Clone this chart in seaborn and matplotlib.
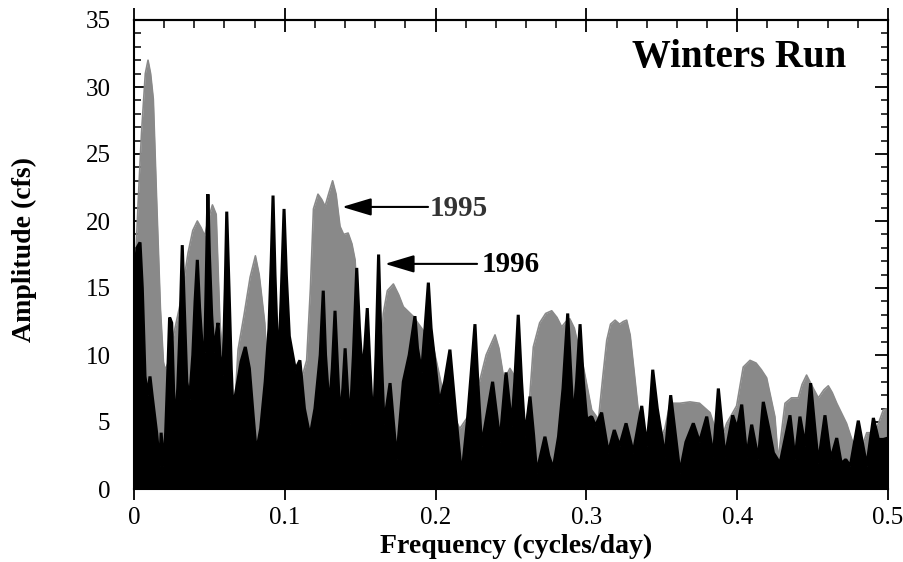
import numpy as np
import pandas as pd
import matplotlib
matplotlib.use("Agg")
import matplotlib.pyplot as plt
import seaborn as sns
from matplotlib.ticker import MultipleLocator

# ---------------- data ----------------
gray_freq = [0.000, 0.003, 0.005, 0.0075, 0.0093, 0.011, 0.0128, 0.015, 0.0175, 0.0195,
             0.0206, 0.023, 0.027, 0.031, 0.0358, 0.039, 0.042, 0.0445, 0.0469, 0.049,
             0.052, 0.0545, 0.057, 0.060, 0.0635, 0.0667, 0.069, 0.073, 0.077, 0.0805,
             0.083, 0.0867, 0.089, 0.095, 0.102, 0.108, 0.1145, 0.117, 0.119, 0.122,
             0.1245, 0.1267, 0.129, 0.1317, 0.134, 0.1366, 0.139, 0.142, 0.1445, 0.1466,
             0.148, 0.150, 0.1545, 0.158, 0.162, 0.1653, 0.168, 0.172, 0.1755, 0.1786,
             0.185, 0.192, 0.1985, 0.204, 0.210, 0.216, 0.222, 0.228, 0.2335, 0.2394,
             0.242, 0.245, 0.2475, 0.2493, 0.252, 0.256, 0.259, 0.2625, 0.2648, 0.269,
             0.273, 0.277, 0.2805, 0.2836, 0.2865, 0.289, 0.292, 0.295, 0.298, 0.3035,
             0.308, 0.311, 0.3135, 0.316, 0.319, 0.322, 0.3245, 0.3267, 0.329, 0.332,
             0.3367, 0.342, 0.348, 0.352, 0.3555, 0.362, 0.3687, 0.375, 0.382, 0.3886,
             0.393, 0.3996, 0.404, 0.4085, 0.4125, 0.416, 0.4195, 0.425, 0.4272, 0.4317,
             0.436, 0.4405, 0.443, 0.446, 0.4505, 0.4538, 0.4575, 0.4604, 0.463, 0.466,
             0.4725, 0.476, 0.4814, 0.4859, 0.4914, 0.4969, 0.500]
gray_amp = [14.5, 22.0, 26.6, 31.0, 32.0, 31.0, 29.1, 21.6, 13.5, 9.5,
            8.9, 9.5, 11.9, 14.0, 17.6, 19.3, 20.0, 19.5, 18.9, 20.0,
            21.2, 20.5, 12.4, 8.3, 6.5, 5.9, 10.4, 13.0, 15.8, 17.4,
            16.0, 12.4, 8.0, 5.0, 5.5, 7.0, 9.6, 15.0, 20.9, 22.0,
            21.6, 21.1, 22.0, 23.0, 22.0, 19.6, 19.0, 19.1, 18.3, 17.1,
            14.0, 10.6, 6.5, 6.0, 8.5, 13.1, 14.8, 15.3, 14.5, 13.6,
            12.9, 11.8, 10.6, 7.7, 6.0, 4.5, 5.5, 7.5, 10.0, 11.5,
            10.5, 8.4, 8.6, 9.0, 8.5, 6.0, 3.5, 7.0, 10.6, 12.4,
            13.1, 13.3, 12.8, 12.1, 12.5, 12.7, 12.0, 10.5, 9.1, 5.9,
            5.2, 8.5, 11.1, 12.3, 12.6, 12.3, 12.5, 12.6, 11.5, 8.4,
            3.4, 3.0, 3.5, 4.5, 6.4, 6.4, 6.5, 6.4, 5.7, 3.4,
            4.9, 6.2, 9.1, 9.6, 9.4, 8.9, 8.3, 5.4, 2.2, 6.4,
            6.8, 6.8, 7.8, 8.5, 7.5, 6.8, 7.4, 7.7, 7.2, 6.4,
            4.9, 3.7, 2.7, 4.2, 4.2, 5.9, 6.0]

black_freq = [0.000, 0.002, 0.004, 0.0055, 0.0073, 0.009, 0.0106, 0.012, 0.015, 0.017,
              0.018, 0.0195, 0.021, 0.0225, 0.0236, 0.025, 0.027, 0.029, 0.0305, 0.032,
              0.0335, 0.035, 0.0369, 0.039, 0.0405, 0.042, 0.0435, 0.045, 0.0469, 0.0478,
              0.049, 0.050, 0.0515, 0.053, 0.0545, 0.0557, 0.057, 0.059, 0.0605, 0.0615,
              0.063, 0.0645, 0.0656, 0.068, 0.071, 0.0738, 0.0765, 0.079, 0.0811, 0.084,
              0.087, 0.0895, 0.091, 0.0922, 0.0935, 0.0957, 0.0975, 0.0995, 0.101, 0.103,
              0.107, 0.110, 0.113, 0.1167, 0.120, 0.1235, 0.1255, 0.127, 0.1295, 0.1315,
              0.1333, 0.135, 0.1366, 0.1385, 0.140, 0.1415, 0.1432, 0.1455, 0.1477, 0.1495,
              0.1515, 0.153, 0.1547, 0.1565, 0.1587, 0.1605, 0.1622, 0.164, 0.1658, 0.168,
              0.1698, 0.172, 0.1742, 0.1786, 0.1825, 0.1863, 0.188, 0.1907, 0.193, 0.1952,
              0.197, 0.1995, 0.2025, 0.206, 0.2095, 0.213, 0.2173, 0.221, 0.2235, 0.2261,
              0.228, 0.2305, 0.234, 0.2378, 0.2405, 0.2427, 0.2467, 0.2505, 0.2525, 0.2548,
              0.257, 0.2593, 0.2626, 0.265, 0.267, 0.2725, 0.275, 0.278, 0.2815, 0.2845,
              0.2876, 0.2895, 0.2913, 0.2935, 0.2958, 0.298, 0.3002, 0.3035, 0.306, 0.3101,
              0.3145, 0.3185, 0.322, 0.3263, 0.3311, 0.3367, 0.340, 0.342, 0.344, 0.347,
              0.3521, 0.3559, 0.3585, 0.362, 0.366, 0.3709, 0.375, 0.3798, 0.3842, 0.3875,
              0.3919, 0.397, 0.400, 0.403, 0.4063, 0.4096, 0.414, 0.4173, 0.421, 0.424,
              0.4284, 0.435, 0.4383, 0.4416, 0.445, 0.4487, 0.4515, 0.4538, 0.4582, 0.462,
              0.466, 0.469, 0.472, 0.475, 0.4803, 0.4859, 0.4903, 0.4936, 0.4969, 0.500]
black_amp = [15.5, 18.0, 18.4, 15.0, 8.4, 7.0, 8.4, 7.0, 4.2, 1.7,
             4.2, 1.7, 4.2, 9.0, 12.8, 12.4, 4.4, 7.5, 12.0, 18.2,
             13.0, 8.0, 6.7, 10.0, 14.0, 17.1, 13.5, 11.0, 10.2, 15.0,
             22.0, 17.5, 13.0, 10.2, 11.5, 12.4, 10.0, 8.5, 15.0, 20.7,
             15.0, 9.0, 5.9, 7.5, 9.5, 10.6, 9.0, 5.5, 2.7, 4.5,
             8.0, 12.0, 17.0, 21.9, 16.0, 8.6, 14.0, 20.9, 16.0, 11.4,
             8.9, 9.6, 6.0, 3.9, 6.0, 10.0, 14.8, 10.0, 5.9, 9.0,
             13.3, 9.0, 5.2, 7.5, 10.5, 7.5, 4.8, 10.0, 16.5, 12.0,
             8.5, 10.5, 13.5, 9.0, 4.2, 10.0, 17.5, 10.0, 4.8, 6.5,
             7.9, 5.0, 2.2, 8.0, 10.0, 12.9, 10.5, 8.7, 12.0, 15.4,
             12.0, 9.5, 6.4, 8.0, 10.4, 6.0, 0.9, 5.0, 8.5, 12.3,
             8.0, 3.2, 5.5, 8.0, 5.5, 3.5, 8.7, 4.7, 8.0, 13.0,
             8.0, 3.9, 6.9, 4.0, 1.2, 3.9, 2.5, 1.5, 3.9, 7.5,
             13.1, 9.0, 5.0, 8.0, 12.3, 8.0, 5.2, 5.4, 4.7, 5.7,
             2.7, 4.4, 3.2, 4.9, 2.7, 6.2, 3.2, 5.5, 8.9, 6.0,
             2.4, 7.0, 4.5, 1.2, 3.5, 4.9, 3.5, 5.4, 2.4, 7.5,
             2.4, 5.5, 4.5, 6.3, 2.4, 4.8, 2.2, 6.5, 4.5, 2.7,
             1.9, 5.5, 2.2, 5.4, 3.2, 7.9, 4.5, 1.9, 5.5, 2.2,
             3.8, 1.9, 2.2, 1.7, 5.1, 1.7, 5.3, 3.7, 3.7, 3.8]

x_ticks = [0, 0.1, 0.2, 0.3, 0.4, 0.5]
x_tick_labels = ["0", "0.1", "0.2", "0.3", "0.4", "0.5"]
y_ticks = [0, 5, 10, 15, 20, 25, 30, 35]

title_text = "Winters Run"
label_1995 = "1995"
label_1996 = "1996"

# ---------------- style ----------------
sns.set_theme(style="ticks")
plt.rcParams["font.family"] = ["Liberation Serif", "DejaVu Serif"]

GRAY = "#898989"

df_gray = pd.DataFrame({"freq": gray_freq, "amp": gray_amp})
df_black = pd.DataFrame({"freq": black_freq, "amp": black_amp})

fig = plt.figure(figsize=(9.04, 5.62), dpi=100)
ax = fig.add_axes([134 / 904, 1 - 489 / 562, 754 / 904, 469 / 562])

ax.fill_between(df_gray["freq"], 0, df_gray["amp"], color=GRAY, lw=0, zorder=1)
sns.lineplot(data=df_gray, x="freq", y="amp", color=GRAY, lw=1.2, ax=ax,
             estimator=None, sort=False, zorder=1)
ax.fill_between(df_black["freq"], 0, df_black["amp"], color="black", lw=0, zorder=2)
sns.lineplot(data=df_black, x="freq", y="amp", color="black", lw=2.2, ax=ax,
             estimator=None, sort=False, zorder=2, solid_joinstyle="bevel")

ax.set_xlim(0, 0.5)
ax.set_ylim(0, 35)

# ticks
ax.set_xticks(x_ticks)
ax.set_xticklabels(x_tick_labels)
ax.set_yticks(y_ticks)
ax.yaxis.set_minor_locator(MultipleLocator(1))
ax.tick_params(axis="x", which="major", direction="out", length=8, width=1.3,
               labelsize=18, pad=5, top=False, bottom=True, color="black")
ax.tick_params(axis="x", which="minor", bottom=False, top=False)
ax.tick_params(axis="y", which="major", direction="in", length=9.5, width=1.3,
               labelsize=18, pad=17, left=True, right=True, color="black")
ax.tick_params(axis="y", which="minor", direction="in", length=5, width=1.1,
               left=True, right=True, color="black")

# top axis with inout majors and inward minors
sec = ax.secondary_xaxis("top")
sec.set_xticks(x_ticks)
sec.set_xticklabels([])
sec.xaxis.set_minor_locator(MultipleLocator(0.02))
sec.tick_params(axis="x", which="major", direction="inout", length=17, width=1.3, color="black")
sec.tick_params(axis="x", which="minor", direction="in", length=5.5, width=1.1, color="black")
sec.spines["top"].set_linewidth(1.5)

for s in ax.spines.values():
    s.set_linewidth(1.5)
    s.set_color("black")
    s.set_zorder(5)

for lab in ax.get_xticklabels() + ax.get_yticklabels():
    lab.set_color("black")

ax.set_xlabel("Frequency (cycles/day)", fontsize=20, fontweight="bold", color="black")
ax.set_ylabel("Amplitude (cfs)", fontsize=20, fontweight="bold", color="black")
ax.xaxis.set_label_coords(0.507, -0.095)
ax.yaxis.set_label_coords(-0.129, 0.51)

ax.text(0.945, 0.90, title_text, transform=ax.transAxes, ha="right", va="baseline",
        fontsize=28, fontweight="bold", color="black", zorder=6)

arrow_kw = dict(arrowstyle="-|>,head_length=1.0,head_width=0.3", color="black",
                lw=1.5, mutation_scale=18, shrinkA=0, shrinkB=0)
ax.annotate("", xy=(0.138, 21.05), xytext=(0.195, 21.05), arrowprops=arrow_kw, zorder=6)
ax.text(0.1963, 20.9, label_1995, ha="left", va="center", fontsize=21,
        fontweight="bold", color="#333333", zorder=6)
ax.annotate("", xy=(0.1664, 16.8), xytext=(0.2275, 16.8), arrowprops=arrow_kw, zorder=6)
ax.text(0.2306, 16.75, label_1996, ha="left", va="center", fontsize=21,
        fontweight="bold", color="black", zorder=6)

fig.savefig("out.png", dpi=100)
